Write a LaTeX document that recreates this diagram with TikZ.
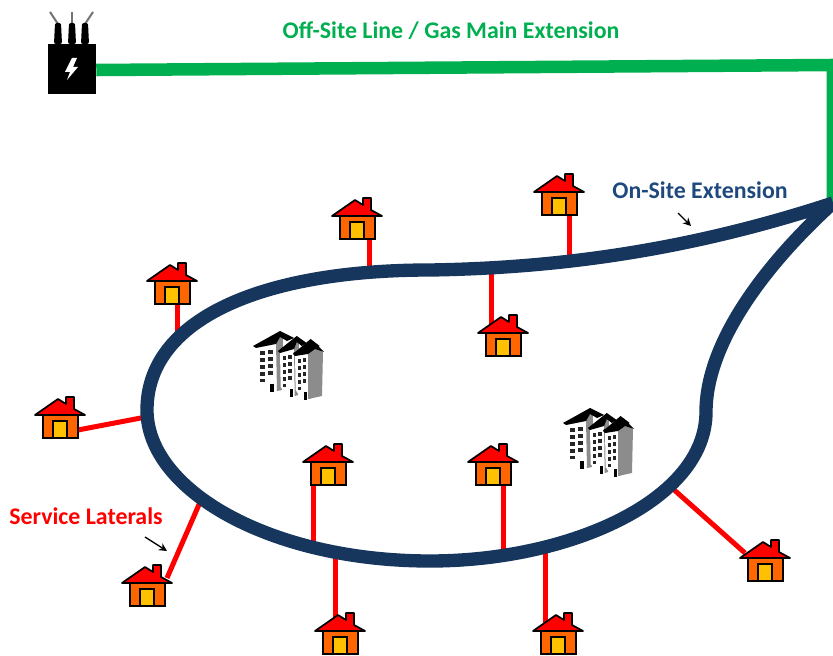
\documentclass[tikz,border=0pt]{standalone}
\usepackage{fontspec}
\setmainfont{Carlito}
\usepackage{xcolor}
\usetikzlibrary{arrows.meta, calc}
\definecolor{offgreen}{RGB}{0,176,80}
\definecolor{onblue}{RGB}{23,54,93}
\definecolor{textblue}{RGB}{31,73,125}
\definecolor{bodyorange}{RGB}{255,102,0}
\definecolor{doorgold}{RGB}{255,192,0}

\begin{document}
\begin{tikzpicture}[
  x=0.75pt, y=-0.75pt,
  offsite/.style={draw=offgreen, line width=9.4pt, line join=miter},
  onsite/.style={draw=onblue, line width=10pt},
  lateral/.style={draw=red, line width=3.75pt},
  pointer/.style={draw=black, line width=1pt, -{Stealth[length=6pt,width=6pt]}},
  housebox/.style={inner sep=0pt, minimum width=37.5pt, minimum height=31.5pt},
  lbl/.style={font=\bfseries\fontsize{17.9}{20}\selectfont, inner sep=0pt},
  house/.pic={
    \filldraw[fill=bodyorange, draw=black, line width=1.3pt] (-17,-3) rectangle (18,20);
    \filldraw[fill=doorgold, draw=black, line width=1.3pt] (-7,3) rectangle (7,20);
    \filldraw[fill=red, draw=black, line width=1.3pt, line join=round]
      (-25,-3) -- (-2,-19) -- (6,-14) -- (6,-21) -- (14,-21) -- (14,-9) -- (25,-3) -- cycle;
  },
  tower/.pic={
    \fill[white] (0,1) -- (20,-2) -- (21,45) -- (12,47) -- (1,36) -- cycle;
    \fill[black!45] (20,-3) -- (24,-13) -- (27,-10) -- (26,44) -- (21,45) -- cycle;
    \fill[black] (-3,0) -- (24,-15) -- (38,-8) -- (31,-5) -- (24,-9) -- (20,-2) -- (0,2) -- cycle;
    \foreach \wy in {5,12,19,26} {
      \fill[black!85] (4,\wy) rectangle (9,\wy+4);
      \fill[black!85] (12,\wy-1) rectangle (17,\wy+3);
    }
    \fill[black!85] (4,33) rectangle (9,36);
    \fill[black] (14,38) rectangle (18,46);
  },
  buildings/.pic={
    \pic at (-34,-18) {tower};
    \pic[xscale=0.7] at (-10,-13) {tower};
    \pic[xscale=0.65] at (5,-10) {tower};
    \fill[black!45] (18,-12) -- (25,-19) -- (33,-12) -- (32,32) -- (18,35) -- cycle;
    \fill[black] (3,-11) -- (25,-21) -- (34,-12) -- (25,-15) -- (18,-10) -- (5,-8) -- cycle;
  }
]
\useasboundingbox (0,0) rectangle (833,656);

%--- Source and corner ---
\node[fill=black, inner sep=0pt, minimum width=36pt, minimum height=37.5pt] (source) at (72,69) {};
\coordinate (corner) at (833,65);
\coordinate (tip) at (833,203);

%--- Houses ---
\foreach \hname/\hx/\hy in {h1/559/195, h2/357/219, h3/172/284, h4/60/418, h5/503/336, h6/328/465,
                            h7/493/465, h8/147/586, h9/340/634, h10/558/634, h11/765/561}
  \node[housebox] (\hname) at (\hx,\hy) {};

%--- Lateral ends on the loop ---
\coordinate (l1) at (569,258);
\coordinate (l2) at (369,270);
\coordinate (l3) at (177,342);
\coordinate (l4) at (146,417);
\coordinate (l5) at (491,270);
\coordinate (l6) at (313,545);
\coordinate (l7) at (503,553);
\coordinate (l8) at (201,500);
\coordinate (l9) at (335,556);
\coordinate (l10) at (545,550);
\coordinate (l11) at (672,488);

%--- Off-site line ---
\draw[offsite] (source.east |- 0,70) -- (corner) -- (tip);

%--- Service laterals ---
\draw[lateral] (l1) -- (l1 |- h1.south);
\draw[lateral] (l2) -- (l2 |- h2.south);
\draw[lateral] (l3) -- (l3 |- h3.south);
\draw[lateral] (l4) -- ($(h4)+(18,12)$);
\draw[lateral] (l5) -- (l5 |- h5);
\draw[lateral] (l6) -- (l6 |- h6.south);
\draw[lateral] (l7) -- (l7 |- h7.south);
\draw[lateral] (l8) -- ($(h8)+(20,-8)$);
\draw[lateral] (l9) -- (l9 |- h9);
\draw[lateral] (l10) -- (l10 |- h10);
\draw[lateral] (l11) -- ($(h11)+(-20,-8)$);

%--- On-site loop ---
\draw[onsite] (tip) .. controls (690,250) and (560,268) .. (430,270)
  .. controls (260,270) and (147,320) .. (147,410)
  .. controls (147,490) and (270,561) .. (430,561)
  .. controls (570,561) and (706,500) .. (706,412)
  .. controls (706,340) and (770,260) .. (tip);

%--- House pictures ---
\foreach \hname in {h1,h2,h3,h4,h5,h6,h7,h8,h9,h10,h11}
  \pic at (\hname) {house};

%--- Buildings ---
\pic at (290,364) {buildings};
\pic at (600,441) {buildings};

%--- Source details ---
\begin{scope}[shift={(source.center)}]
  \fill[white] (0,-11) -- (-7,3) -- (-2,3) -- (-5,11) -- (6,-2) -- (1,-2) -- (5,-11) -- cycle;
  \foreach \bx/\tx in {-14/-22, 0/0, 13/21} {
    \draw[black!55, line width=1.5pt] (\bx,-45) -- (\tx,-57);
    \fill[black, rounded corners=1.5pt] (\bx-4,-25) -- (\bx-3,-46) -- (\bx+3,-46) -- (\bx+4,-25) -- cycle;
  }
\end{scope}

%--- Labels ---
\node[lbl, text=offgreen] (offlabel) at (451,31) {Off-Site Line / Gas Main Extension};
\node[lbl, text=textblue] (onlabel) at (700,190) {On-Site Extension};
\node[lbl, text=red] (servicelabel) at (86,516) {Service Laterals};

%--- Small pointers ---
\coordinate (ona) at (678,213);
\coordinate (onb) at (691,226);
\coordinate (sva) at (145,537);
\coordinate (svb) at (167,551);
\draw[pointer] (ona) -- (onb);
\draw[pointer] (sva) -- (svb);

\end{tikzpicture}
\end{document}
